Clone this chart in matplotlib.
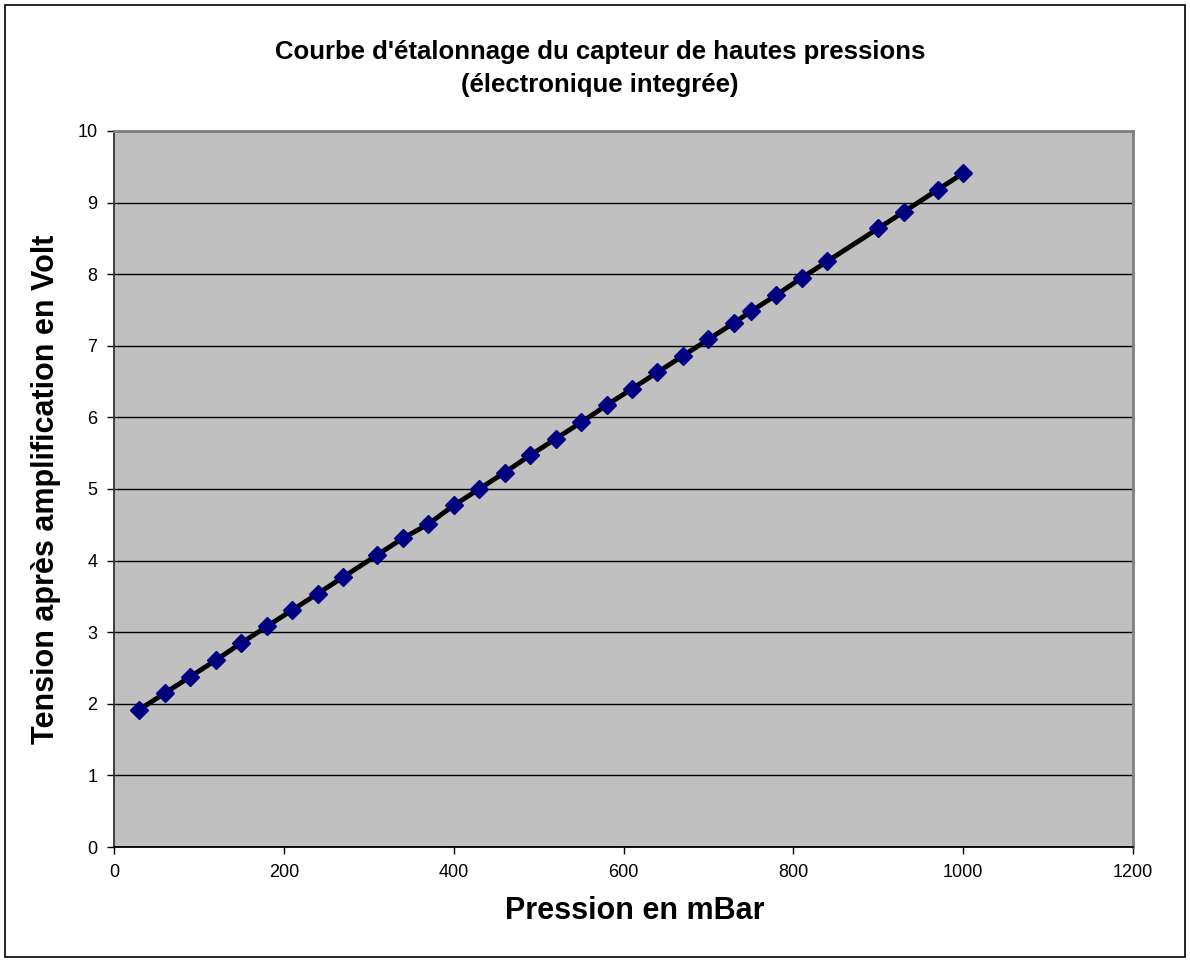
import matplotlib.pyplot as plt
from matplotlib.patches import Rectangle

# calibration points
pression = [30, 60, 90, 120, 150, 180, 210, 240, 270, 310, 340, 370, 400, 430,
            460, 490, 520, 550, 580, 610, 640, 670, 700, 730, 750, 780, 810,
            840, 900, 930, 970, 1000]
tension = [1.92, 2.15, 2.38, 2.61, 2.85, 3.08, 3.31, 3.54, 3.77, 4.08, 4.31,
           4.51, 4.77, 5.00, 5.23, 5.47, 5.70, 5.93, 6.17, 6.40, 6.63, 6.86,
           7.09, 7.32, 7.48, 7.71, 7.95, 8.18, 8.64, 8.87, 9.18, 9.41]

plt.rcParams["font.family"] = ["Liberation Sans", "DejaVu Sans"]

fig = plt.figure(figsize=(11.9, 9.61), dpi=100)
# chart area border
fig.patches.append(Rectangle((0.004, 0.004), 0.992, 0.991, transform=fig.transFigure,
                             fill=False, edgecolor="black", linewidth=1.2))

ax = fig.add_axes([114 / 1190, 1 - 847 / 961, (1133 - 114) / 1190, (847 - 131) / 961])
ax.set_facecolor("#c0c0c0")
ax.set_axisbelow(True)
ax.grid(axis="y", color="black", linewidth=1)

ax.plot(pression, tension, color="black", linewidth=3.5, marker="D",
        markersize=9.5, markerfacecolor="#000080", markeredgecolor="#000080", zorder=3)

ax.set_xlim(0, 1200)
ax.set_ylim(0, 10)
ax.set_xticks(range(0, 1201, 200))
ax.set_yticks(range(0, 11))
ax.tick_params(labelsize=13, direction="out", length=5, width=1, pad=7)

for s in ["top", "right"]:
    ax.spines[s].set_color("#808080")
    ax.spines[s].set_linewidth(2)
ax.spines["left"].set_color("#303030")
ax.spines["bottom"].set_color("black")
ax.spines["left"].set_linewidth(1.3)
ax.spines["bottom"].set_linewidth(1.3)

ax.set_xlabel("Pression en mBar", fontsize=22, fontweight="bold", va="center")
ax.xaxis.set_label_coords(0.511, -0.09)
ax.set_ylabel("Tension après amplification en Volt", fontsize=22, fontweight="bold", va="center")
ax.yaxis.set_label_coords(-0.067, 0.5)

fig.text(0.504, 0.9285, "Courbe d'étalonnage du capteur de hautes pressions\n(électronique integrée)",
         ha="center", va="center", fontsize=18.5, fontweight="bold", linespacing=1.45)

fig.savefig("out.png", dpi=100)
